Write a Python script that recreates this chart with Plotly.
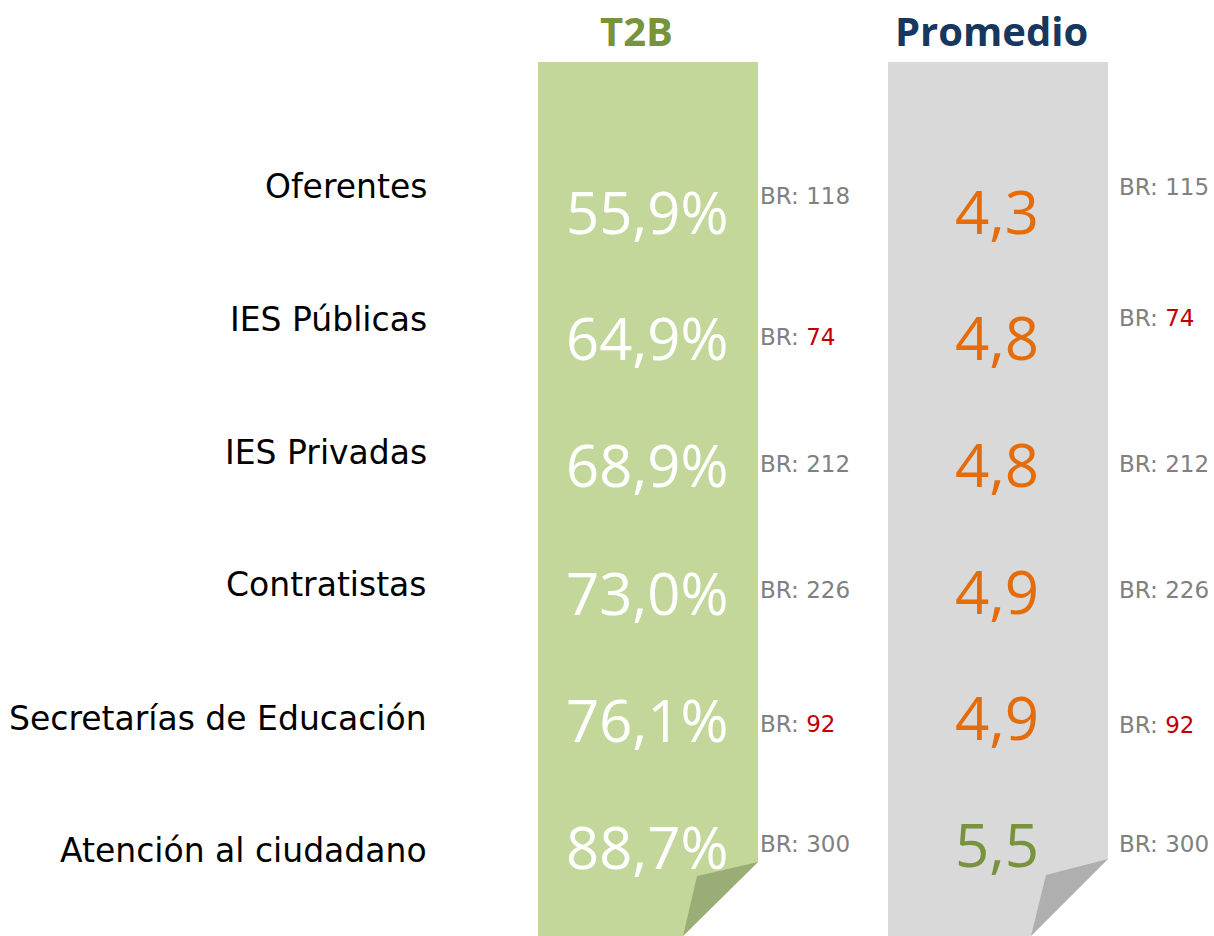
import plotly.graph_objects as go

# ---- data ----
categories = ["Oferentes", "IES Públicas", "IES Privadas", "Contratistas",
              "Secretarías de Educación", "Atención al ciudadano"]
t2b_values = [55.9, 64.9, 68.9, 73.0, 76.1, 88.7]
t2b_base = [118, 74, 212, 226, 92, 300]
avg_values = [4.3, 4.8, 4.8, 4.9, 4.9, 5.5]
avg_base = [115, 74, 212, 226, 92, 300]
column_titles = ["T2B", "Promedio"]

# ---- layout constants (pixel-like coordinates) ----
W, H = 1214, 936
FONT = "Open Sans"
LABEL_FONT = "DejaVu Sans"
GREEN_TXT = "#77933c"
NAVY = "#17375e"
ORANGE = "#e46c0a"
GREY_TXT = "#808080"
RED = "#c00000"

label_y = [186, 319, 452, 584, 718, 850]
t2b_y = [211, 337, 464, 592, 719, 846]
avg_y = [211, 337, 464, 591, 717, 844]
brl_y = [196, 337, 464, 590, 724, 844]
brr_y = [187, 318, 464, 590, 725, 844]

panels = [
    dict(x0=538, x1=758, top=62, curl_y=862, cut_x=683, fold=(697, 876),
         fill="#c4d79b", fold_fill="#9bad76"),
    dict(x0=888, x1=1108, top=62, curl_y=859, cut_x=1031, fold=(1046, 875),
         fill="#d9d9d9", fold_fill="#afafaf"),
]


def fmt(v, dec=1):
    return f"{v:.{dec}f}".replace(".", ",")


def br_text(n):
    col = RED if n < 100 else GREY_TXT
    return f"BR: <span style='color:{col}'>{n}</span>"


fig = go.Figure()
shapes = []
for p in panels:
    path = (f"M {p['x0']},{p['top']} L {p['x1']},{p['top']} L {p['x1']},{p['curl_y']} "
            f"L {p['cut_x']},{H} L {p['x0']},{H} Z")
    shapes.append(dict(type="path", path=path, xref="x", yref="y",
                       fillcolor=p["fill"], line=dict(width=0), layer="below"))
    fx, fy = p["fold"]
    fold = f"M {p['x1']},{p['curl_y']} L {fx},{fy} L {p['cut_x']},{H} Z"
    shapes.append(dict(type="path", path=fold, xref="x", yref="y",
                       fillcolor=p["fold_fill"], line=dict(width=0), layer="below"))

ann = []
# column titles
ann.append(dict(x=636, y=30, text=f"<b>{column_titles[0]}</b>", showarrow=False,
                font=dict(family=FONT, size=40, color=GREEN_TXT)))
ann.append(dict(x=991, y=30, text=f"<b>{column_titles[1]}</b>", showarrow=False,
                font=dict(family=FONT, size=40, color=NAVY)))

for i, cat in enumerate(categories):
    ann.append(dict(x=429, y=label_y[i], text=cat, showarrow=False, xanchor="right",
                    font=dict(family=LABEL_FONT, size=33, color="#000000")))
    ann.append(dict(x=647, y=t2b_y[i], text=fmt(t2b_values[i]) + "%", showarrow=False,
                    font=dict(family=FONT, size=58, color="#ffffff")))
    ann.append(dict(x=758, y=brl_y[i], text=br_text(t2b_base[i]), showarrow=False,
                    xanchor="left", font=dict(family=LABEL_FONT, size=23, color=GREY_TXT)))
    vcol = GREEN_TXT if avg_values[i] >= 5 else ORANGE
    ann.append(dict(x=997, y=avg_y[i], text=fmt(avg_values[i]), showarrow=False,
                    font=dict(family=FONT, size=60, color=vcol)))
    ann.append(dict(x=1117, y=brr_y[i], text=br_text(avg_base[i]), showarrow=False,
                    xanchor="left", font=dict(family=LABEL_FONT, size=23, color=GREY_TXT)))

for a in ann:
    a.update(xref="x", yref="y")

fig.update_layout(
    width=W, height=H, margin=dict(l=0, r=0, t=0, b=0),
    paper_bgcolor="white", plot_bgcolor="white",
    xaxis=dict(range=[0, W], visible=False, fixedrange=True),
    yaxis=dict(range=[H, 0], visible=False, fixedrange=True),
    shapes=shapes, annotations=ann, showlegend=False,
)
fig.write_html("out.html", config={"displayModeBar": False},
               post_script="document.body.style.margin='0px';document.body.style.overflow='hidden';")
